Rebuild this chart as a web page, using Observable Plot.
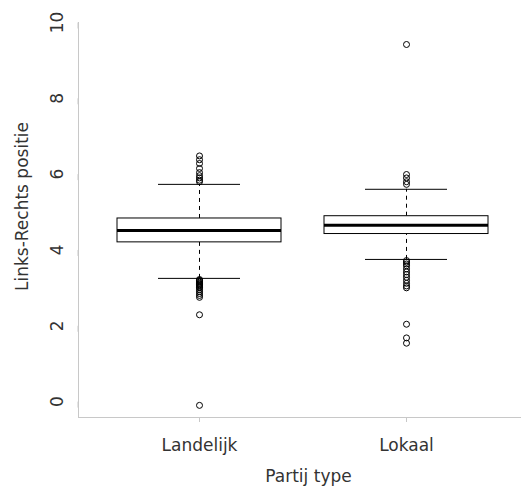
<!DOCTYPE html>
<html><head><meta charset="utf-8">
<script src="https://cdn.jsdelivr.net/npm/d3@7"></script>
<script src="https://cdn.jsdelivr.net/npm/@observablehq/plot@0.6"></script>
<style>body{margin:0;background:#fff}</style>
</head><body><div id="chart"></div>
<script>
const categories = ["Landelijk", "Lokaal"];
const lowerWhisker = [3.25, 3.75];
const q1 = [4.20, 4.42];
const median = [4.51, 4.65];
const q3 = [4.83, 4.89];
const upperWhisker = [5.73, 5.60];
const outliersLandelijk = [6.48, 6.38, 6.28, 6.15, 6.04, 5.96, 5.90, 5.84, 5.80,
  3.22, 3.20, 3.18, 3.15, 3.12, 3.10, 3.08, 3.05, 3.02, 3.00, 2.95, 2.90, 2.85, 2.80, 2.75,
  2.29, -0.10];
const outliersLokaal = [9.42, 5.99, 5.90, 5.80, 5.73,
  3.72, 3.68, 3.63, 3.58, 3.50, 3.42, 3.35, 3.28, 3.20, 3.12, 3.05, 3.00,
  2.04, 1.68, 1.54];
const yTicks = [0, 2, 4, 6, 8, 10];
const xTitle = "Partij type";
const yTitle = "Links-Rechts positie";

const boxes = categories.map((c, i) => ({cat: c, lw: lowerWhisker[i], q1: q1[i], med: median[i], q3: q3[i], uw: upperWhisker[i]}));
const outliers = [
  ...outliersLandelijk.map(v => ({cat: categories[0], v})),
  ...outliersLokaal.map(v => ({cat: categories[1], v}))
];

const ink = "#333";
const grid = "#c8c8c8";

const chart = Plot.plot({
  width: 521,
  height: 486,
  marginLeft: 78,
  marginRight: 0,
  marginTop: 22,
  marginBottom: 69,
  style: {fontFamily: "DejaVu Sans", fontSize: "17px", background: "#fff", color: ink},
  x: {type: "band", domain: categories, range: [117, 488], paddingInner: 0.21, paddingOuter: 0},
  y: {domain: [-0.42, 10]},
  marks: [
    Plot.frame({anchor: "left", stroke: grid}),
    Plot.frame({anchor: "bottom", stroke: grid}),
    Plot.axisY({ticks: yTicks, tickSize: 6, tickPadding: 10, rotate: -90, textAnchor: "middle", lineAnchor: "bottom", stroke: grid, fill: ink, fontSize: 17, label: null}),
    Plot.axisX({tickSize: 5, tickPadding: 16, stroke: grid, fill: ink, fontSize: 17, label: null}),
    Plot.ruleX(boxes, {x: "cat", y1: "q3", y2: "uw", stroke: "#000", strokeDasharray: "4,4"}),
    Plot.ruleX(boxes, {x: "cat", y1: "lw", y2: "q1", stroke: "#000", strokeDasharray: "4,4"}),
    Plot.tickY(boxes, {x: "cat", y: "uw", stroke: "#000", insetLeft: 41, insetRight: 41}),
    Plot.tickY(boxes, {x: "cat", y: "lw", stroke: "#000", insetLeft: 41, insetRight: 41}),
    Plot.barY(boxes, {x: "cat", y1: "q1", y2: "q3", fill: "#fff", stroke: "#000", strokeWidth: 1}),
    Plot.tickY(boxes, {x: "cat", y: "med", stroke: "#000", strokeWidth: 3}),
    Plot.dot(outliers, {x: "cat", y: "v", r: 3, stroke: "#000", fill: "none", strokeWidth: 1}),
    Plot.text([yTitle], {frameAnchor: "left", dx: -51, dy: -13.5, rotate: -90, textAnchor: "middle", lineAnchor: "bottom", fontSize: 17, fill: ink}),
    Plot.text([xTitle], {frameAnchor: "bottom", dx: 8.5, dy: 64, textAnchor: "middle", lineAnchor: "bottom", fontSize: 17, fill: ink})
  ]
});
document.getElementById("chart").appendChild(chart);
</script>
</body></html>
